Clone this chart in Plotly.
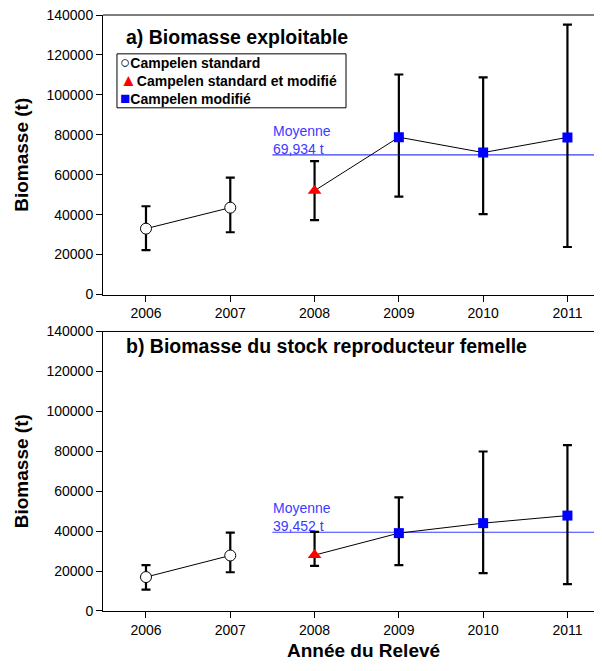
import plotly.graph_objects as go
from plotly.subplots import make_subplots

# données
annees = [2006, 2007, 2008, 2009, 2010, 2011]
engin = ["std", "std", "mix", "mod", "mod", "mod"]

bio_expl = [33000, 43500, 52000, 78800, 71100, 78700]
bio_expl_bas = [22200, 31200, 37300, 49000, 40300, 23800]
bio_expl_haut = [44200, 58500, 66800, 110200, 108800, 135200]
moy_expl = 69934

bio_fem = [17000, 27800, 28000, 39000, 44000, 47800]
bio_fem_bas = [10700, 19400, 22600, 23000, 19000, 13500]
bio_fem_haut = [23000, 39300, 39600, 56900, 79900, 83100]
moy_fem = 39452

titres = ["a) Biomasse exploitable", "b) Biomasse du stock reproducteur femelle"]

styles = {
    "std": dict(name="Campelen standard", symbol="circle", color="white", size=11, lw=1, glyphe="○", gcol="black"),
    "mix": dict(name="Campelen standard et modifié", symbol="triangle-up", color="red", size=12, lw=0, glyphe="▲", gcol="red"),
    "mod": dict(name="Campelen modifié", symbol="square", color="blue", size=10, lw=0, glyphe="■", gcol="blue"),
}

FONT = "Arial, Liberation Sans, sans-serif"
BLEU = "#3b3bff"

fig = make_subplots(rows=2, cols=1, vertical_spacing=0.062)

panneaux = [
    (bio_expl, bio_expl_bas, bio_expl_haut, moy_expl),
    (bio_fem, bio_fem_bas, bio_fem_haut, moy_fem),
]

def refs(r):
    s = "" if r == 1 else str(r)
    return "x" + s, "y" + s

for r, (val, bas, haut, moy) in enumerate(panneaux, start=1):
    xr, yr = refs(r)
    # ligne de la moyenne
    fig.add_trace(go.Scatter(x=[2007.5, 2012.5], y=[moy, moy], mode="lines",
                             line=dict(color=BLEU, width=1.2), showlegend=False,
                             hoverinfo="skip"), row=r, col=1)
    # lignes reliant les points (deux segments)
    for grp in (["std"], ["mix", "mod"]):
        xs = [a for a, e in zip(annees, engin) if e in grp]
        ys = [v for v, e in zip(val, engin) if e in grp]
        fig.add_trace(go.Scatter(x=xs, y=ys, mode="lines",
                                 line=dict(color="black", width=1),
                                 showlegend=False, hoverinfo="skip"), row=r, col=1)
    for k, st in styles.items():
        idx = [i for i, e in enumerate(engin) if e == k]
        fig.add_trace(go.Scatter(
            x=[annees[i] for i in idx], y=[val[i] for i in idx], mode="markers",
            name=st["name"], showlegend=False,
            marker=dict(symbol=st["symbol"], color=st["color"], size=st["size"],
                        line=dict(color="black", width=st["lw"])),
            error_y=dict(type="data", symmetric=False,
                         array=[haut[i] - val[i] for i in idx],
                         arrayminus=[val[i] - bas[i] for i in idx],
                         color="black", thickness=2.2, width=4.5),
        ), row=r, col=1)

    fig.add_annotation(x=2007.5, y=moy, yshift=-3, xref=xr, yref=yr,
                       text=f"Moyenne<br>{moy:,} t", showarrow=False,
                       xanchor="left", yanchor="bottom", align="left", borderpad=0,
                       font=dict(family=FONT, size=14, color=BLEU))
    fig.add_annotation(x=0.042, y=0.9225 if r == 1 else 0.947,
                       xref=xr + " domain", yref=yr + " domain",
                       text=f"<b>{titres[r - 1]}</b>", showarrow=False,
                       xanchor="left", yanchor="middle",
                       font=dict(family=FONT, size=19.5, color="black"))
    # bordure du haut
    fig.add_shape(type="line", x0=0, x1=1, y0=1, y1=1,
                  xref=xr + " domain", yref=yr + " domain",
                  line=dict(color="black", width=1))

    fig.update_xaxes(range=[2005.49, 2011.41], tickvals=annees, ticks="outside",
                     ticklen=6, tickcolor="black", showline=True, linecolor="black",
                     linewidth=1, showgrid=False, zeroline=False, automargin=False,
                     ticklabeloverflow="allow",
                     tickfont=dict(family=FONT, size=14, color="black"), row=r, col=1)
    fig.update_yaxes(range=[0, 140000], dtick=20000, tickformat="d", ticks="outside",
                     ticklen=6, tickcolor="black", showline=True, linecolor="black",
                     linewidth=1, showgrid=False, zeroline=False, automargin=False,
                     ticklabeloverflow="allow",
                     tickfont=dict(family=FONT, size=14, color="black"),
                     title=dict(text="<b>Biomasse (t)</b>", standoff=12,
                                font=dict(family=FONT, size=19, color="black")),
                     row=r, col=1)

# légende dessinée à la main (panneau a)
fig.add_shape(type="rect", x0=0.028, x1=0.487, y0=0.668, y1=0.861,
              xref="x domain", yref="y domain", line=dict(color="black", width=1),
              fillcolor="white")
lignes = [f'<span style="color:{st["gcol"]};font-size:17px">{st["glyphe"]}</span>'
          f'<b>{st["name"]}</b>' for st in styles.values()]
fig.add_annotation(x=0.032, y=0.7645, xref="x domain", yref="y domain",
                   text="<br>".join(lignes), showarrow=False, align="left",
                   xanchor="left", yanchor="middle", borderpad=0,
                   font=dict(family=FONT, size=14, color="black"))

# titre de l'axe des x
fig.add_annotation(x=0.523, y=-0.0671, xref="x2 domain", yref="paper",
                   text="<b>Année du Relevé</b>", showarrow=False,
                   xanchor="center", yanchor="middle", borderpad=0,
                   font=dict(family=FONT, size=19, color="black"))

# la page ajoute 8 px de marge autour du graphique
fig.update_layout(
    width=594, height=655,
    margin=dict(l=95, r=0, t=7, b=52),
    plot_bgcolor="white", paper_bgcolor="white",
    font=dict(family=FONT, color="black"),
    showlegend=False,
)

fig.write_html("out.html")
